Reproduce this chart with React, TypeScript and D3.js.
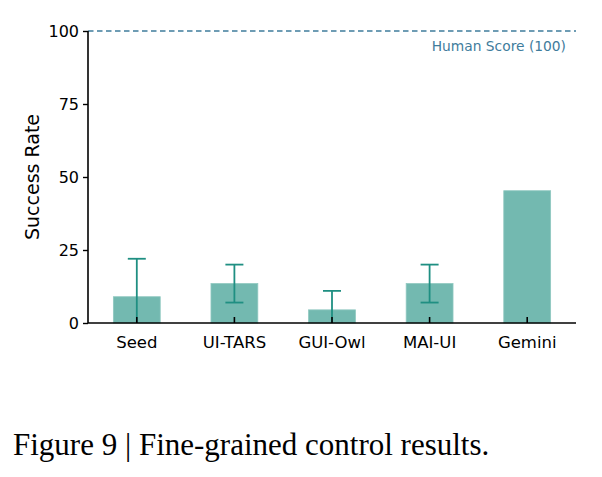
import { useRef, useEffect } from "react";
import * as d3 from "d3";

const models = ["Seed", "UI-TARS", "GUI-Owl", "MAI-UI", "Gemini"];
const successRate = [9, 13.5, 4.5, 13.5, 45.3];
const errLow = [0, 7, 0, 7, null];
const errHigh = [22, 20, 11, 20, null];
const yTicks = [0, 25, 50, 75, 100];
const humanScore = 100;

const W = 602;
const H = 477;

export default function App() {
  const svgRef = useRef<SVGSVGElement | null>(null);

  useEffect(() => {
    const svg = d3.select(svgRef.current);
    svg.selectAll("*").remove();

    const left = 88, right = 576, top = 31, bottom = 323;
    const font = "DejaVu Sans, Verdana, sans-serif";

    const x = d3.scaleBand().domain(models).range([left, right]).paddingInner(0.52).paddingOuter(0.26);
    const y = d3.scaleLinear().domain([0, 100]).range([bottom, top]);

    // Bars
    svg.append("g")
      .selectAll("rect")
      .data(models)
      .join("rect")
      .attr("x", d => x(d)!)
      .attr("y", (d, i) => y(successRate[i]))
      .attr("width", x.bandwidth())
      .attr("height", (d, i) => y(0) - y(successRate[i]))
      .attr("fill", "#73b9b0")
      .attr("stroke", "#8fc8c0")
      .attr("stroke-width", 0.8);

    // Error bars
    const eb = svg.append("g").attr("stroke", "#1f8f82").attr("stroke-width", 1.8);
    models.forEach((m, i) => {
      if (errLow[i] == null || errHigh[i] == null) return;
      const cx = x(m)! + x.bandwidth() / 2;
      eb.append("line").attr("x1", cx).attr("x2", cx).attr("y1", y(errLow[i]!)).attr("y2", y(errHigh[i]!));
      eb.append("line").attr("x1", cx - 9).attr("x2", cx + 9).attr("y1", y(errHigh[i]!)).attr("y2", y(errHigh[i]!));
      if (errLow[i]! > 0) {
        eb.append("line").attr("x1", cx - 9).attr("x2", cx + 9).attr("y1", y(errLow[i]!)).attr("y2", y(errLow[i]!));
      }
    });

    // Human score line
    svg.append("line")
      .attr("x1", left).attr("x2", right)
      .attr("y1", y(humanScore)).attr("y2", y(humanScore))
      .attr("stroke", "#3f7c9c")
      .attr("stroke-width", 1.3)
      .attr("stroke-dasharray", "5.5 3.5");
    svg.append("text")
      .attr("x", 566).attr("y", y(humanScore) + 20)
      .attr("text-anchor", "end")
      .attr("font-family", font).attr("font-size", 13.8)
      .attr("fill", "#3f7c9c")
      .text(`Human Score (${humanScore})`);

    // Y axis
    const yAxis = svg.append("g").attr("transform", `translate(${left},0)`)
      .call(d3.axisLeft(y).tickValues(yTicks).tickSize(5).tickPadding(4));
    yAxis.select(".domain").attr("stroke", "#000").attr("stroke-width", 1.6).attr("d", `M0,${bottom}V${top}`);
    yAxis.selectAll(".tick line").attr("stroke", "#000").attr("stroke-width", 1.4);
    yAxis.selectAll(".tick text").attr("font-family", font).attr("font-size", 16).attr("fill", "#000");

    // X axis (inward ticks)
    const xAxis = svg.append("g").attr("transform", `translate(0,${bottom})`)
      .call(d3.axisBottom(x).tickSize(0).tickPadding(13));
    xAxis.select(".domain").attr("stroke", "#000").attr("stroke-width", 1.6).attr("d", `M${left},0H${right}`);
    xAxis.selectAll(".tick line").attr("y2", -6).attr("stroke", "#000").attr("stroke-width", 1.6);
    xAxis.selectAll(".tick text").attr("font-family", font).attr("font-size", 16.5).attr("fill", "#000");

    // Y label
    svg.append("text")
      .attr("transform", `translate(39,${(top + bottom) / 2}) rotate(-90)`)
      .attr("text-anchor", "middle")
      .attr("font-family", font).attr("font-size", 19)
      .attr("fill", "#000")
      .text("Success Rate");

    // Caption
    svg.append("text")
      .attr("x", 13).attr("y", 455)
      .attr("font-family", "Liberation Serif, serif").attr("font-size", 31)
      .attr("fill", "#000")
      .text("Figure 9 | Fine-grained control results.");
  }, []);

  return (
    <div style={{ position: "fixed", left: 0, top: 0, width: W, height: H, background: "#fff" }}>
      <svg ref={svgRef} width={W} height={H} style={{ display: "block" }} />
    </div>
  );
}
